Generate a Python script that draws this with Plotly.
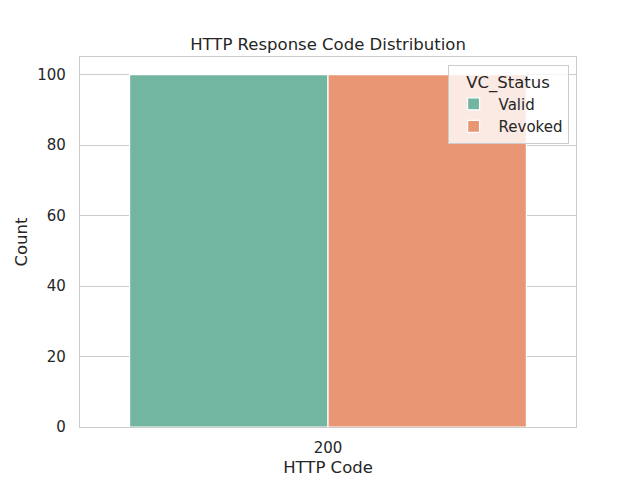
import plotly.graph_objects as go

categories = ["200"]
valid_counts = [100]
revoked_counts = [100]
series_names = ["Valid", "Revoked"]
colors = ["#72b6a1", "#e99675"]

fig = go.Figure()
for name, vals, col in zip(series_names, [valid_counts, revoked_counts], colors):
    fig.add_trace(go.Bar(
        x=categories, y=vals, name=name,
        marker=dict(color=col, line=dict(color="white", width=1.2)),
    ))

font_family = "DejaVu Sans"
txt = "#262626"
fig.update_layout(
    width=640, height=480,
    margin=dict(l=80, r=64, t=57, b=53),
    paper_bgcolor="white", plot_bgcolor="white",
    barmode="group", bargap=0.2, bargroupgap=0,
    font=dict(family=font_family, color=txt, size=15),
    title=dict(text="HTTP Response Code Distribution", x=0.5125, xanchor="center",
               y=1 - 44 / 480, yanchor="middle", font=dict(size=16.5, color=txt)),
    showlegend=True,
    legend=dict(
        title=dict(text="VC_Status", side="top center", font=dict(size=16.5)),
        x=0.985, xanchor="right", y=0.978, yanchor="top",
        bgcolor="rgba(255,255,255,0.8)", bordercolor="#cccccc", borderwidth=1,
        font=dict(size=15), traceorder="normal", itemwidth=40,
    ),
)
fig.update_xaxes(
    type="category", showgrid=False, showline=True, mirror=True, automargin=False,
    linecolor="#cccccc", linewidth=1.25, ticks="", ticklabelstandoff=7,
    title=dict(text="HTTP Code", font=dict(size=16.5), standoff=5),
    tickfont=dict(size=15),
)
fig.update_yaxes(
    range=[0, 105], dtick=20, showgrid=True, gridcolor="#cccccc", gridwidth=1,
    showline=True, mirror=True, linecolor="#cccccc", linewidth=1.25, automargin=False,
    zeroline=False, ticks="", ticklabelstandoff=10,
    title=dict(text="Count", font=dict(size=16.5), standoff=5),
    tickfont=dict(size=15),
)
fig.write_html("out.html")
